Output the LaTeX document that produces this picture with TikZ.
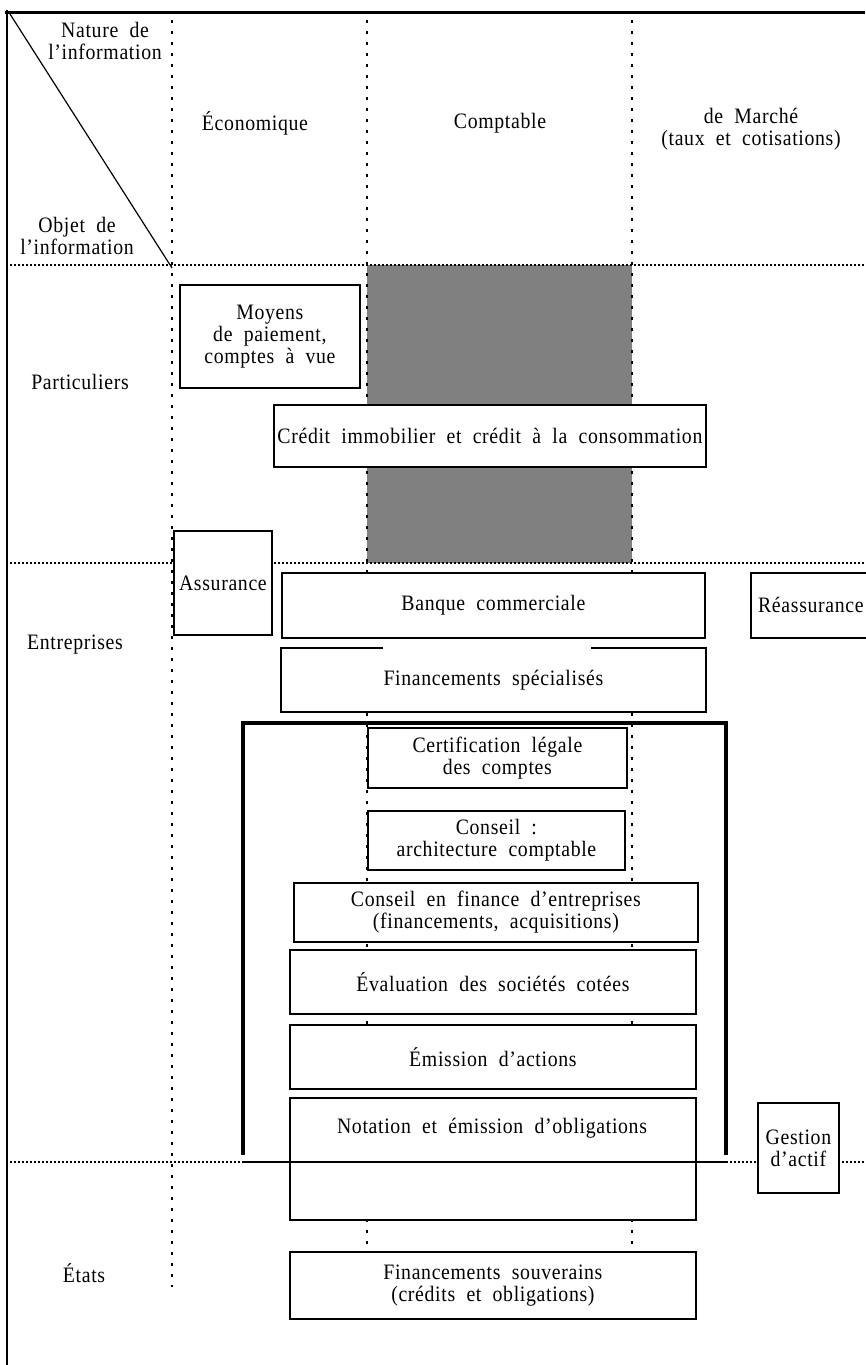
\documentclass[tikz,border=0pt]{standalone}
\usepackage{fontspec}
\setmainfont{Liberation Serif}[FakeStretch=0.9,LetterSpace=3,WordSpace=2]
\usetikzlibrary{positioning, calc}

\begin{document}
\begin{tikzpicture}[
    x=1pt, y=-1pt,
    font=\fontsize{22}{22}\selectfont,
    block/.style={
      draw, fill=white, line width=1.8pt, align=center, inner sep=0pt, anchor=north west
    },
    ghost/.style={
      align=center, inner sep=0pt
    },
    hline/.style={
      line width=1.3pt, dash pattern=on 1.5pt off 2.5pt
    },
    vline/.style={
      line width=1.3pt, dash pattern=on 3pt off 8pt
    },
    bracket/.style={
      line width=3.5pt
    },
  ]
    \useasboundingbox (0,0) rectangle (865,1365);

    % shaded zone
    \fill [gray] (367,265) rectangle (632,563);

    % grid
    \foreach \x in {172, 367, 632} {
      \draw [vline] (\x,20) -- (\x,1287);
    }
    \foreach \y in {265, 563, 1162} {
      \draw [hline] (10,\y) -- (865,\y);
    }

    % frame
    \draw [line width=3pt] (5,12) -- (865,12);
    \draw [line width=2.5pt] (7,10) -- (7,1365);
    \draw [line width=1.2pt] (10,14) -- (172,268);

    % headers
    \node [ghost] (nature) at (105,41) {Nature de\\l’information};
    \node [ghost] (objet) at (77,236) {Objet de\\l’information};
    \node [ghost] (economique) at (255,123) {Économique};
    \node [ghost] (comptable) at (500,123) {Comptable};
    \node [ghost] (marche) at (751,129) {de Marché\\(taux et cotisations)};
    \node [ghost] (particuliers) at (80,382) {Particuliers};
    \node [ghost] (entreprises) at (75,645) {Entreprises};
    \node [ghost] (etats) at (84,1273) {États};

    % boxes Particuliers
    \node [block, minimum width=180, minimum height=103] (moyens) at (179,284) {Moyens\\de paiement,\\comptes à vue};
    \node [block, minimum width=432, minimum height=62] (credit) at (273,404) {Crédit immobilier et crédit à la consommation};

    % boxes Entreprises
    \node [block, minimum width=98, minimum height=104] (assurance) at (173,530) {Assurance};
    \node [block, minimum width=423, minimum height=65] (banque) at (281,572) {Banque commerciale};
    \node [block, minimum width=120, minimum height=65] (reassurance) at (750,572) {Réassurance};
    \node [block, draw=none, minimum width=423, minimum height=62] (financements) at (281,648) {Financements spécialisés};
    \draw [line width=1.8pt] ($(financements.north west)+(102,0)$) -- (financements.north west) -- (financements.south west) -- (financements.south east) -- (financements.north east) -- ++(-115,0);

    \node [block, minimum width=259, minimum height=60] (certification) at (367,727) {Certification légale\\des comptes};
    \node [block, minimum width=257, minimum height=59] (conseil_compta) at (367,810) {Conseil :\\architecture comptable};
    \node [block, minimum width=404, minimum height=59] (conseil_finance) at (293,882) {Conseil en finance d’entreprises\\(financements, acquisitions)};
    \node [block, minimum width=406, minimum height=64] (evaluation) at (289,949) {Évaluation des sociétés cotées};
    \node [block, minimum width=406, minimum height=64] (emission) at (289,1024) {Émission d’actions};
    \node [block, minimum width=406, minimum height=122] (notation) at (289,1097) {};
    \node [ghost] (notation_label) at (492,1128) {Notation et émission d’obligations};
    \node [block, minimum width=81, minimum height=90] (gestion) at (757,1102) {Gestion\\d’actif};

    % boxes Etats
    \node [block, minimum width=406, minimum height=67] (souverains) at (289,1251) {Financements souverains\\(crédits et obligations)};

    % bracket
    \draw [bracket] (243,1155) -- (243,723) -- (726,723) -- (726,1155);
    \draw [line width=2pt] (243,1162) -- (726,1162);
\end{tikzpicture}
\end{document}
